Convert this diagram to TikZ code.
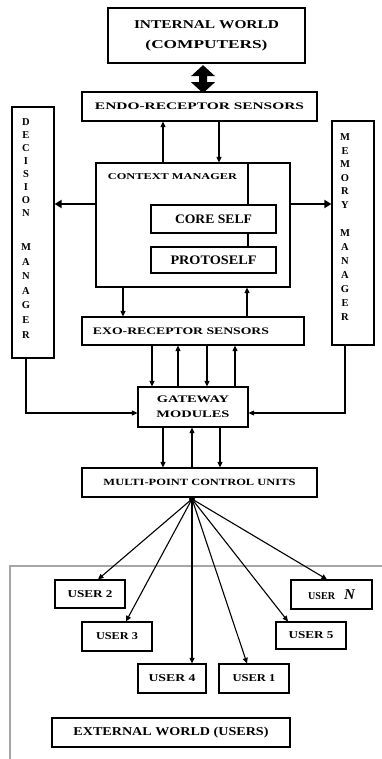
\documentclass[tikz,border=0pt]{standalone}
\usepackage{fontspec}
\usepackage{graphicx}
\setmainfont{Liberation Serif}
\usetikzlibrary{arrows.meta,calc}
\newcommand\sw[2]{\resizebox{#1pt}{\height}{#2}}
\tikzset{
  box/.style={draw, line width=1.2pt, inner sep=0pt, fill=white, font=\bfseries},
  txt/.style={inner sep=0pt, font=\bfseries},
  vl/.style={inner sep=0pt, font=\bfseries\fontsize{10.5}{10.5}\selectfont},
  arr/.style={line width=1.1pt, -{Triangle[length=5.5pt,width=5pt]}},
  thk/.style={line width=2.6pt, -{Triangle[length=7pt,width=8pt]}},
  ln/.style={line width=1.1pt},
}
\begin{document}
\begin{tikzpicture}[x=1pt,y=-1pt]
\useasboundingbox (0,0) rectangle (382,759);
% external region
\draw[gray!70, line width=2.2pt] (10,759) -- (10,566);
\draw[gray!70, line width=1.2pt] (9,566) -- (382,566);

% boxes
\node[box, line width=2.3pt, minimum width=197pt, minimum height=55pt, align=center,
  font=\bfseries\fontsize{12}{12}\selectfont] (iw) at (206.5,35.5)
  {\sw{145}{INTERNAL WORLD}\\[8pt]\sw{122}{(COMPUTERS)}};
\node[box, minimum width=235pt, minimum height=29pt, font=\bfseries\fontsize{10}{12}\selectfont] (endo) at (199.5,106.5)
  {\sw{209}{ENDO-RECEPTOR SENSORS}};
\node[box, minimum width=42pt, minimum height=251pt] (dec) at (33,232.5) {};
\node[box, minimum width=42pt, minimum height=224pt] (mem) at (353,233) {};
\node[box, minimum width=194pt, minimum height=124pt] (ctx) at (193,225) {};
\node[txt, font=\bfseries\fontsize{9}{9}\selectfont] (ctxl) at (172.5,177) {\sw{129}{CONTEXT MANAGER}};
\node[box, minimum width=125pt, minimum height=28pt, font=\bfseries\fontsize{13}{13}\selectfont] (core) at (213.5,219)
  {\sw{77}{CORE SELF}};
\node[box, minimum width=125pt, minimum height=26pt, font=\bfseries\fontsize{13}{13}\selectfont] (proto) at (213.5,260)
  {\sw{86}{PROTOSELF}};
\node[box, minimum width=222pt, minimum height=28pt] (exo) at (193,331) {};
\node[txt, font=\bfseries\fontsize{10}{10}\selectfont] (exol) at (181,331) {\sw{176}{EXO-RECEPTOR SENSORS}};
\node[box, minimum width=110pt, minimum height=40pt, align=center, font=\bfseries\fontsize{10}{10}\selectfont] (gw) at (193,407)
  {\sw{72}{GATEWAY}\\[5pt]\sw{73}{MODULES}};
\node[box, minimum width=235pt, minimum height=29pt, font=\bfseries\fontsize{9.5}{10}\selectfont] (mcu) at (199.5,482.5)
  {\sw{192}{MULTI-POINT CONTROL UNITS}};

% users
\tikzset{ub/.style={box, font=\bfseries\fontsize{10.5}{11}\selectfont}}
\node[ub, minimum width=70pt, minimum height=28pt] (u2) at (90,594) {\sw{45}{USER 2}};
\node[ub, minimum width=81pt, minimum height=29pt] (un) at (331.5,594.5) {\sw{27}{USER}\hspace{9pt}{\fontsize{15}{15}\selectfont\bfseries\itshape N}};
\node[ub, minimum width=70pt, minimum height=29pt] (u3) at (117,636.5) {\sw{42}{USER 3}};
\node[ub, minimum width=70pt, minimum height=27pt] (u5) at (311,635.5) {\sw{45}{USER 5}};
\node[ub, minimum width=68pt, minimum height=29pt] (u4) at (172,678.5) {\sw{47}{USER 4}};
\node[ub, minimum width=70pt, minimum height=29pt] (u1) at (254,678.5) {\sw{43}{USER 1}};
\node[box, line width=2.4pt, minimum width=238pt, minimum height=29pt, font=\bfseries\fontsize{12}{12}\selectfont] (ext) at (171,732.5)
  {\sw{195}{EXTERNAL WORLD (USERS)}};

% vertical labels
\foreach \l [count=\i] in {D,E,C,I,S,I,O,N}
  \node[vl] (decA\i) at (26,{122+13*(\i-1)}) {\l};
\foreach \l [count=\i] in {M,A,N,A,G,E,R}
  \node[vl] (decB\i) at (26,{247+14.6*(\i-1)}) {\l};
\foreach \l [count=\i] in {M,E,M,O,R,Y}
  \node[vl] (memA\i) at (345,{137+13.6*(\i-1)}) {\l};
\foreach \l [count=\i] in {M,A,N,A,G,E,R}
  \node[vl] (memB\i) at (345,{233+14*(\i-1)}) {\l};

% big double arrow
\fill (iw.south -| 203,0) ++(0,1) coordinate (da1)
  -- ++(-12,11) -- ++(8,0) -- ++(0,6) -- ++(-8,0) -- ++(12,11) -- ++(12,-11) -- ++(-8,0) -- ++(0,-6) -- ++(8,0) -- cycle;

% connectors
\draw[arr] (163,0 |- ctx.north) -- (163,0 |- endo.south);
\draw[arr] (219,0 |- endo.south) -- (219,0 |- ctx.north);
\draw[ln] (248,0 |- ctx.north) -- (248,0 |- core.north);
\draw[ln] (248,0 |- core.south) -- (248,0 |- proto.north);
\draw[thk] (ctx.west |- 0,204) -- (dec.east |- 0,204);
\draw[thk] (ctx.east |- 0,204) -- (mem.west |- 0,204);
\draw[arr] (123,0 |- ctx.south) -- (123,0 |- exo.north);
\draw[arr] (247,0 |- exo.north) -- (247,0 |- ctx.south);
\draw[arr] (152,0 |- exo.south) -- (152,0 |- gw.north);
\draw[arr] (178,0 |- gw.north) -- (178,0 |- exo.south);
\draw[arr] (207,0 |- exo.south) -- (207,0 |- gw.north);
\draw[arr] (235,0 |- gw.north) -- (235,0 |- exo.south);
\draw[arr] (26,0 |- dec.south) |- (gw.west |- 0,413);
\draw[arr] (345,0 |- mem.south) |- (gw.east |- 0,413);
\draw[arr] (163,0 |- gw.south) -- (163,0 |- mcu.north);
\draw[arr] (192,0 |- mcu.north) -- (192,0 |- gw.south);
\draw[arr] (220,0 |- gw.south) -- (220,0 |- mcu.north);

% fan-out
\coordinate (fan) at (192,499);
\fill (fan) circle (3pt);
\draw[arr] (fan) -- (98,0 |- u2.north);
\draw[arr] (fan) -- (126,0 |- u3.north);
\draw[arr] (fan) -- (192,0 |- u4.north);
\draw[arr] (fan) -- (247,0 |- u1.north);
\draw[arr] (fan) -- (288,0 |- u5.north);
\draw[arr] (fan) -- (327,0 |- un.north);
\end{tikzpicture}
\end{document}
